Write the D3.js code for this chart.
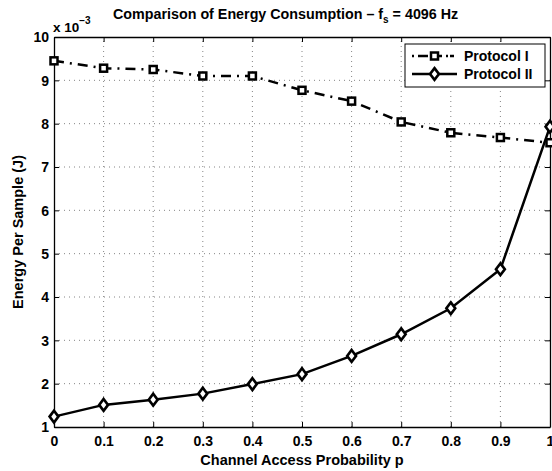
<!DOCTYPE html>
<html>
<head>
<meta charset="utf-8">
<script src="https://cdn.jsdelivr.net/npm/d3@7"></script>
<style>
  html, body { margin: 0; padding: 0; background: #fff; }
  svg { display: block; }
  svg text { font-family: "Liberation Sans", Arial, Helvetica, sans-serif; font-weight: 700; fill: #000; }
</style>
</head>
<body>
<svg id="chart" width="552" height="471"></svg>
<script>
// Channel access probability values
const pValues = [0, 0.1, 0.2, 0.3, 0.4, 0.5, 0.6, 0.7, 0.8, 0.9, 1.0];
// Energy per sample (x 10^-3 J)
const protocolI  = [9.45, 9.28, 9.25, 9.10, 9.10, 8.77, 8.52, 8.04, 7.79, 7.68, 7.56];
const protocolII = [1.24, 1.51, 1.63, 1.77, 1.99, 2.22, 2.64, 3.14, 3.74, 4.64, 7.93];
const xTicks = [0, 0.1, 0.2, 0.3, 0.4, 0.5, 0.6, 0.7, 0.8, 0.9, 1];
const yTicks = [1, 2, 3, 4, 5, 6, 7, 8, 9, 10];
const seriesNames = ["Protocol I", "Protocol II"];

const svg = d3.select("#chart");
const m = { left: 54, right: 2, top: 37, bottom: 44 };
const W = 552, H = 471;
const x = d3.scaleLinear().domain([0, 1]).range([m.left, W - m.right]);
const y = d3.scaleLinear().domain([1, 10]).range([H - m.bottom, m.top]);

// dotted grid
const grid = svg.append("g");
grid.selectAll(".gx").data(xTicks.slice(1, -1)).join("line")
  .attr("x1", d => x(d)).attr("x2", d => x(d))
  .attr("y1", y(1)).attr("y2", y(10))
  .attr("stroke", "#666").attr("stroke-width", 0.8).attr("stroke-dasharray", "1,4");
grid.selectAll(".gy").data(yTicks.slice(1, -1)).join("line")
  .attr("y1", d => y(d)).attr("y2", d => y(d))
  .attr("x1", x(0)).attr("x2", x(1))
  .attr("stroke", "#666").attr("stroke-width", 0.8).attr("stroke-dasharray", "1,4");

// axes with inward ticks
const fmtX = d => (d === 0 || d === 1) ? String(d) : d3.format(".1f")(d);
const xAxis = svg.append("g").attr("transform", `translate(0,${y(1)})`)
  .call(d3.axisBottom(x).tickValues(xTicks).tickFormat(fmtX).tickSizeInner(-5).tickSizeOuter(0).tickPadding(9));
const xAxisTop = svg.append("g").attr("transform", `translate(0,${y(10)})`)
  .call(d3.axisTop(x).tickValues(xTicks).tickFormat("").tickSizeInner(-5).tickSizeOuter(0));
const yAxis = svg.append("g").attr("transform", `translate(${x(0)},0)`)
  .call(d3.axisLeft(y).tickValues(yTicks).tickFormat(d3.format("d")).tickSizeInner(-5).tickSizeOuter(0).tickPadding(5));
const yAxisRight = svg.append("g").attr("transform", `translate(${x(1)},0)`)
  .call(d3.axisRight(y).tickValues(yTicks).tickFormat("").tickSizeInner(-5).tickSizeOuter(0));
[xAxis, xAxisTop, yAxis, yAxisRight].forEach(g => {
  g.select(".domain").attr("stroke", "#000").attr("stroke-width", 1.3);
  g.selectAll(".tick line").attr("stroke", "#000").attr("stroke-width", 1);
  g.selectAll("text").attr("font-size", 14).attr("font-family", null).attr("fill", null);
});
yAxis.selectAll(".tick text").attr("dy", "0.35em");

// exponent label
const ex = svg.append("text").attr("x", 53).attr("y", 32).attr("font-size", 13.5);
ex.append("tspan").text("x 10");
ex.append("tspan").attr("dy", -8).attr("font-size", 10).text("\u22123");

// title
const title = svg.append("text").attr("x", 113).attr("y", 19).attr("font-size", 14.3);
title.append("tspan").text("Comparison of Energy Consumption \u2013 f");
title.append("tspan").attr("dy", 4).attr("font-size", 10).text("s");
title.append("tspan").attr("dy", -4).text(" = 4096 Hz");

// axis titles
svg.append("text").attr("x", x(0.5)).attr("y", 465).attr("text-anchor", "middle")
  .attr("font-size", 14.5).text("Channel Access Probability p");
svg.append("text").attr("transform", `translate(23,${y(5.5)}) rotate(-90)`)
  .attr("text-anchor", "middle").attr("font-size", 14.5).text("Energy Per Sample (J)");

// series
const line = d3.line().x((d, i) => x(pValues[i])).y(d => y(d));
svg.append("path").datum(protocolI).attr("d", line).attr("fill", "none")
  .attr("stroke", "#000").attr("stroke-width", 2.5).attr("stroke-dasharray", "10,6,2,6");
svg.append("path").datum(protocolII).attr("d", line).attr("fill", "none")
  .attr("stroke", "#000").attr("stroke-width", 2.5);

const sq = 7;
svg.selectAll(".sq").data(protocolI).join("rect")
  .attr("x", (d, i) => x(pValues[i]) - sq / 2).attr("y", d => y(d) - sq / 2)
  .attr("width", sq).attr("height", sq)
  .attr("fill", "#fff").attr("stroke", "#000").attr("stroke-width", 2.5);
const diamond = d3.symbol().type(d3.symbolDiamond).size(40);
svg.selectAll(".dm").data(protocolII).join("path")
  .attr("transform", (d, i) => `translate(${x(pValues[i])},${y(d)}) scale(1.3,1)`)
  .attr("d", diamond).attr("fill", "#fff").attr("stroke", "#000").attr("stroke-width", 2.2);

// legend
const lg = svg.append("g");
lg.append("rect").attr("x", 405).attr("y", 44).attr("width", 140).attr("height", 43)
  .attr("fill", "#fff").attr("stroke", "#000").attr("stroke-width", 1);
lg.append("line").attr("x1", 412).attr("x2", 457).attr("y1", 56).attr("y2", 56)
  .attr("stroke", "#000").attr("stroke-width", 2.5).attr("stroke-dasharray", "2,4,10,4,10,4,2");
lg.append("rect").attr("x", 434.5 - sq / 2).attr("y", 56 - sq / 2).attr("width", sq).attr("height", sq)
  .attr("fill", "#fff").attr("stroke", "#000").attr("stroke-width", 2.5);
lg.append("line").attr("x1", 412).attr("x2", 457).attr("y1", 74).attr("y2", 74)
  .attr("stroke", "#000").attr("stroke-width", 2.5);
lg.append("path").attr("transform", "translate(434.5,74) scale(1.3,1)").attr("d", diamond)
  .attr("fill", "#fff").attr("stroke", "#000").attr("stroke-width", 2.2);
lg.selectAll(".lt").data(seriesNames).join("text")
  .attr("x", 464).attr("y", (d, i) => 61 + i * 18).attr("font-size", 14).text(d => d);
</script>
</body>
</html>
